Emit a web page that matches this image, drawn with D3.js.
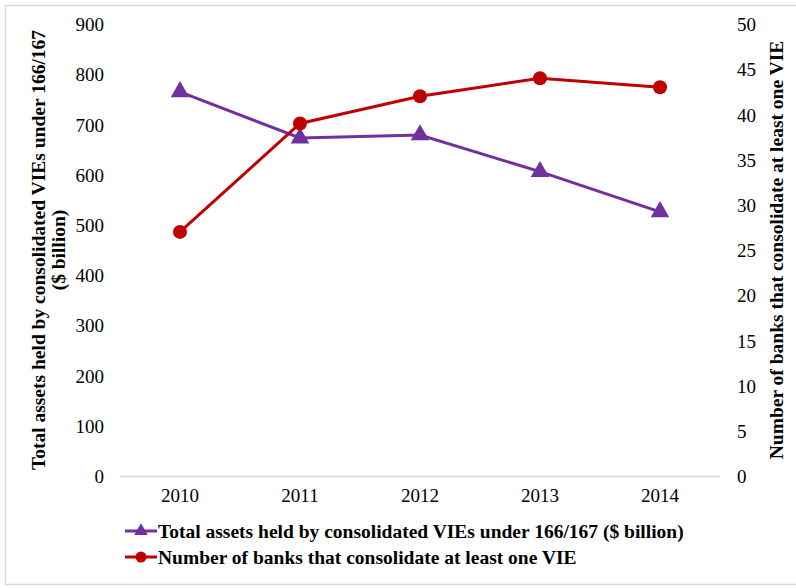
<!DOCTYPE html>
<html>
<head>
<meta charset="utf-8">
<script src="https://cdn.jsdelivr.net/npm/d3@7"></script>
<style>
  body { margin: 0; background: #fff; }
  text { font-family: "Liberation Serif", "Times New Roman", serif; fill: #000; }
</style>
</head>
<body>
<svg id="chart" width="796" height="588"></svg>
<script>
var years = ["2010", "2011", "2012", "2013", "2014"];
var assets = [765, 673, 679, 606, 526];
var banks = [27, 39, 42, 44, 43];
var leftTicks = [0, 100, 200, 300, 400, 500, 600, 700, 800, 900];
var rightTicks = [0, 5, 10, 15, 20, 25, 30, 35, 40, 45, 50];

var purple = "#7030a0";
var red = "#c00000";

var svg = d3.select("#chart");

// outer frame
svg.append("rect")
    .attr("x", 5.5).attr("y", 5.5)
    .attr("width", 800).attr("height", 579)
    .style("fill", "none").style("stroke", "#d9d9d9").style("stroke-width", 1.5);

var plotL = 120, plotR = 720, plotT = 24, plotB = 476;

var x = d3.scaleBand().domain(years).range([plotL, plotR]);
var yL = d3.scaleLinear().domain([0, 900]).range([plotB, plotT]);
var yR = d3.scaleLinear().domain([0, 50]).range([plotB, plotT]);

// left axis
var gl = svg.append("g")
    .attr("transform", "translate(104,0)")
    .call(d3.axisLeft(yL).tickValues(leftTicks).tickSize(0).tickPadding(0));
gl.select(".domain").remove();
gl.selectAll("text").style("font-size", "19px").attr("dy", "0.35em");

// right axis
var gr = svg.append("g")
    .attr("transform", "translate(737,0)")
    .call(d3.axisRight(yR).tickValues(rightTicks).tickSize(0).tickPadding(0));
gr.select(".domain").remove();
gr.selectAll("text").style("font-size", "19px").attr("dy", "0.35em");

// x axis
var gx = svg.append("g")
    .attr("transform", "translate(0," + plotB + ")")
    .call(d3.axisBottom(x).tickSize(0).tickPadding(13));
gx.select(".domain").attr("d", "M" + plotL + ",0.5H" + plotR).style("stroke", "#d9d9d9").style("stroke-width", 1.5);
gx.selectAll("text").style("font-size", "19px");

// axis titles
var lt = svg.append("text")
    .attr("transform", "translate(45,250) rotate(-90)")
    .attr("text-anchor", "middle")
    .style("font-size", "19.5px").style("font-weight", "bold");
lt.append("tspan").attr("x", 0).attr("dy", 0).text("Total assets held by consolidated VIEs under 166/167");
lt.append("tspan").attr("x", 0).attr("dy", "1.0em").text("($ billion)");

svg.append("text")
    .attr("transform", "translate(783,250) rotate(-90)")
    .attr("text-anchor", "middle")
    .style("font-size", "19.5px").style("font-weight", "bold")
    .text("Number of banks that consolidate at least one VIE");

// lines
var cx = function(d, i) { return x(years[i]) + x.bandwidth() / 2; };

var lineL = d3.line().x(cx).y(function(d) { return yL(d); });
var lineR = d3.line().x(cx).y(function(d) { return yR(d); });

svg.append("path").attr("d", lineL(assets))
    .style("fill", "none").style("stroke", purple).style("stroke-width", 3);
svg.append("path").attr("d", lineR(banks))
    .style("fill", "none").style("stroke", red).style("stroke-width", 3);

var tri = d3.symbol().type(d3.symbolTriangle).size(150);

svg.selectAll("path.tri")
    .data(assets)
    .enter()
    .append("path")
    .attr("class", "tri")
    .attr("d", tri)
    .attr("transform", function(d, i) { return "translate(" + cx(d, i) + "," + yL(d) + ")"; })
    .style("fill", purple);

svg.selectAll("circle.dot")
    .data(banks)
    .enter()
    .append("circle")
    .attr("class", "dot")
    .attr("r", 7)
    .attr("cx", cx)
    .attr("cy", function(d) { return yR(d); })
    .style("fill", red);

// legend
var legend = [
    { label: "Total assets held by consolidated VIEs under 166/167 ($ billion)", color: purple, shape: "tri" },
    { label: "Number of banks that consolidate at least one VIE", color: red, shape: "dot" }
];
var lg = svg.selectAll("g.leg")
    .data(legend)
    .enter()
    .append("g")
    .attr("class", "leg")
    .attr("transform", function(d, i) { return "translate(125," + (531 + i * 26) + ")"; });
lg.append("line")
    .attr("x1", 0).attr("x2", 32)
    .style("stroke", function(d) { return d.color; }).style("stroke-width", 3);
lg.each(function(d) {
    var g = d3.select(this);
    if (d.shape == "tri") {
        g.append("path").attr("d", d3.symbol().type(d3.symbolTriangle).size(80)).attr("transform", "translate(16,0)").style("fill", d.color);
    } else {
        g.append("circle").attr("r", 5.5).attr("cx", 16).style("fill", d.color);
    }
});
lg.append("text")
    .attr("x", 33).attr("dy", "0.35em")
    .style("font-size", "19.5px").style("font-weight", "bold")
    .text(function(d) { return d.label; });
</script>
</body>
</html>
